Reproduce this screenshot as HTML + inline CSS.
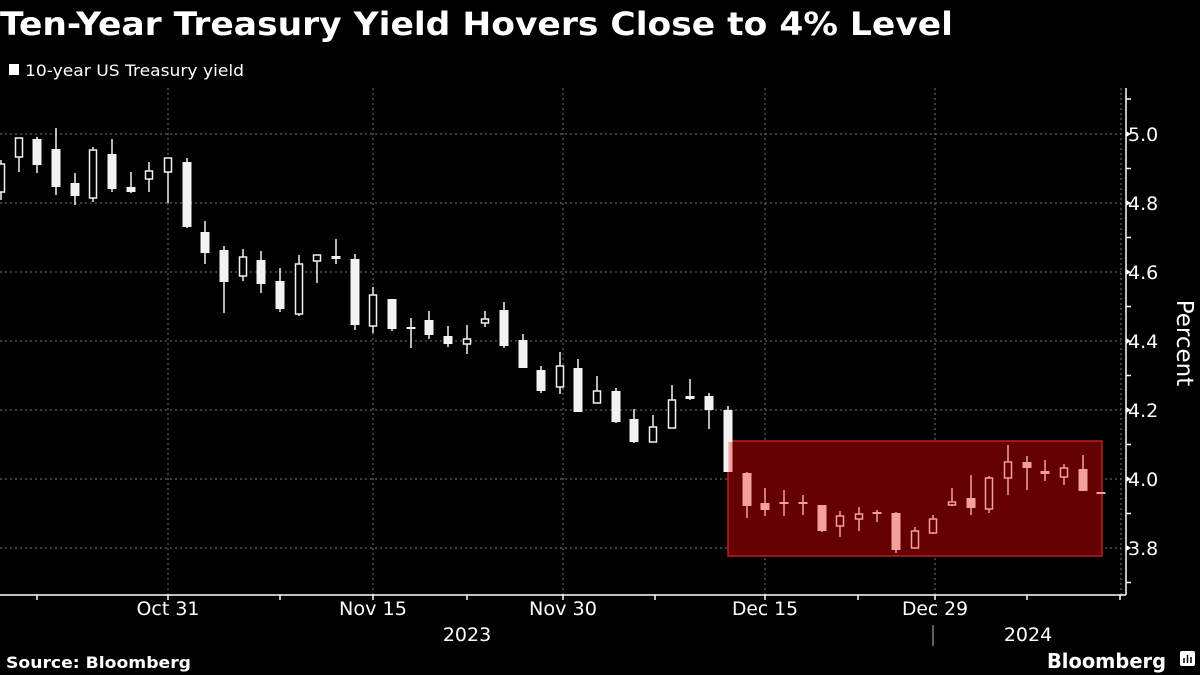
<!DOCTYPE html>
<html><head><meta charset="utf-8"><style>
html,body{margin:0;padding:0;background:#000;width:1200px;height:675px;overflow:hidden}
svg{display:block}
text{font-family:"DejaVu Sans","Liberation Sans",sans-serif;fill:#fff}
</style></head><body>
<svg id="s" width="1200" height="675" xmlns="http://www.w3.org/2000/svg">
<rect width="1200" height="675" fill="#000"/>
<text x="0" y="35" font-size="32" font-weight="bold" textLength="953" lengthAdjust="spacingAndGlyphs">Ten-Year Treasury Yield Hovers Close to 4% Level</text>
<rect x="9" y="64" width="10" height="11" fill="#fff"/>
<text x="25" y="76" font-size="16" textLength="219" lengthAdjust="spacingAndGlyphs">10-year US Treasury yield</text>
<g stroke="#777" stroke-dasharray="2,3" stroke-width="1">
<line x1="0" x2="1121" y1="134" y2="134"/><line x1="0" x2="1121" y1="203" y2="203"/>
<line x1="0" x2="1121" y1="272" y2="272"/><line x1="0" x2="1121" y1="341" y2="341"/>
<line x1="0" x2="1121" y1="410" y2="410"/><line x1="0" x2="1121" y1="479" y2="479"/>
<line x1="0" x2="1121" y1="548" y2="548"/>
<line x1="168" x2="168" y1="88" y2="595"/><line x1="373" x2="373" y1="88" y2="595"/>
<line x1="563" x2="563" y1="88" y2="595"/><line x1="765" x2="765" y1="88" y2="595"/>
<line x1="935" x2="935" y1="88" y2="595"/><line x1="1121" x2="1121" y1="88" y2="595"/>
</g>
<rect x="728" y="441" width="374" height="115" fill="#650000" stroke="#b82020" stroke-width="1.5"/>
<g id="c"></g>
<rect x="728.5" y="442" width="4" height="30" fill="#f4a0a0"/>
<g stroke="#fff" stroke-width="1.5">
<line x1="0" x2="1126" y1="595" y2="595"/>
<line x1="1126" x2="1126" y1="88" y2="595"/>
</g>
<g id="ax"></g>
<g font-size="19">
<text x="1128" y="141">5.0</text><text x="1128" y="210">4.8</text><text x="1128" y="279">4.6</text>
<text x="1128" y="348">4.4</text><text x="1128" y="417">4.2</text><text x="1128" y="486">4.0</text>
<text x="1128" y="555">3.8</text>
<text transform="translate(1177,343) rotate(90)" text-anchor="middle" font-size="23">Percent</text>
<text x="168" y="615" text-anchor="middle" textLength="63" lengthAdjust="spacingAndGlyphs">Oct 31</text>
<text x="373" y="615" text-anchor="middle" textLength="68" lengthAdjust="spacingAndGlyphs">Nov 15</text>
<text x="563" y="615" text-anchor="middle" textLength="68" lengthAdjust="spacingAndGlyphs">Nov 30</text>
<text x="765" y="615" text-anchor="middle" textLength="66" lengthAdjust="spacingAndGlyphs">Dec 15</text>
<text x="935" y="615" text-anchor="middle" textLength="66" lengthAdjust="spacingAndGlyphs">Dec 29</text>
<text x="467" y="641" text-anchor="middle">2023</text>
<text x="1028" y="641" text-anchor="middle">2024</text>
</g>
<line x1="933" x2="933" y1="625" y2="646" stroke="#bbb" stroke-width="1"/>
<text x="6" y="668" font-size="16" font-weight="bold" textLength="185" lengthAdjust="spacingAndGlyphs">Source: Bloomberg</text>
<text x="1047" y="668" font-size="20" font-weight="bold" textLength="119" lengthAdjust="spacingAndGlyphs">Bloomberg</text>
<rect x="1180" y="651" width="15" height="15" rx="2" fill="#fff"/>
<g stroke="#000" stroke-width="1.5"><line x1="1184" x2="1184" y1="658" y2="663"/><line x1="1187.5" x2="1187.5" y1="655" y2="663"/><line x1="1191" x2="1191" y1="657" y2="663"/></g>
</svg>
<script>
var C=[
[1,'h',164,192,160,200],[19,'h',138,157,138,172],[37,'f',139,165,137,173],[56,'f',149,187,128,195],
[75,'f',183,196,173,205],[93,'h',150,198,147,202],[112,'f',154,189,139,192],[131,'f',187,192,172,193],
[149,'h',171,179,162,192],[168,'h',158,172,158,203],[187,'f',162,227,158,228],[205,'f',232,253,221,264],
[224,'f',250,282,246,313],[243,'h',257,276,249,281],[261,'f',260,284,251,293],[280,'f',281,309,268,312],
[299,'h',264,314,255,316],[317,'h',255,261,255,283],[336,'f',256,259,239,264],[355,'f',259,325,254,330],
[373,'h',295,326,287,333],[392,'f',299,329,299,331],[411,'f',327,329,318,348],[429,'f',320,335,311,339],
[448,'f',336,344,326,347],[467,'h',339,344,325,354],[485,'h',319,323,311,327],[504,'f',310,346,302,348],
[523,'f',340,368,334,368],[541,'f',370,391,366,393],[560,'h',366,387,352,394],[578,'f',368,412,359,412],
[597,'h',391,403,376,403],[616,'f',391,422,388,423],[634,'f',419,442,409,443],[653,'h',427,442,415,442],
[672,'h',400,428,385,428],[690,'f',396,399,379,400],[709,'f',396,410,393,429],[728,'f',410,472,406,472],
[747,'f',473,506,472,518],[765,'f',503,510,488,516],[784,'f',502,504,490,516],[803,'f',502,504,495,515],
[822,'f',505,531,505,532],[840,'h',516,526,511,537],[859,'h',514,519,507,531],[877,'f',512,514,510,522],
[896,'f',513,550,512,553],[915,'h',531,548,527,549],[933,'h',519,533,515,534],[952,'h',502,505,488,506],
[971,'f',498,508,475,515],[989,'h',478,509,476,513],[1008,'h',462,478,445,495],[1027,'f',462,468,456,490],
[1045,'f',471,474,460,481],[1064,'h',468,477,464,485],[1083,'f',469,491,455,491],[1101,'f',492,494,492,494]];
var s='';
C.forEach(function(c){var x=c[0],red=x>=740,col=red?'#f4a0a0':'#f2f2f2',bg=red?'#650000':'#000';
s+='<line x1="'+x+'" x2="'+x+'" y1="'+c[4]+'" y2="'+c[5]+'" stroke="'+col+'" stroke-width="1.5"/>';
var h=Math.max(c[3]-c[2],2);
if(c[1]=='f')s+='<rect x="'+(x-4.5)+'" y="'+c[2]+'" width="9" height="'+h+'" fill="'+col+'"/>';
else s+='<rect x="'+(x-3.5)+'" y="'+c[2]+'" width="7" height="'+h+'" fill="'+bg+'" stroke="'+col+'" stroke-width="1.5"/>';});
document.getElementById('c').innerHTML=s;
var a='';
[99,168.5,237.5,306.5,375.5,444.5,513.5,582.5].forEach(function(y){a+='<line x1="1126" x2="1131" y1="'+y+'" y2="'+y+'" stroke="#fff" stroke-width="1.5"/>';});
[134,203,272,341,410,479,548].forEach(function(y){a+='<path d="M1126 '+(y-3)+'L1131 '+y+'L1126 '+(y+3)+'Z" fill="#fff"/>';});
[37,168,280,373,467,563,655,765,858,935,1027,1120].forEach(function(x){a+='<line x1="'+x+'" x2="'+x+'" y1="595" y2="600" stroke="#fff" stroke-width="1.5"/>';});
document.getElementById('ax').innerHTML=a;
</script>
</body></html>
